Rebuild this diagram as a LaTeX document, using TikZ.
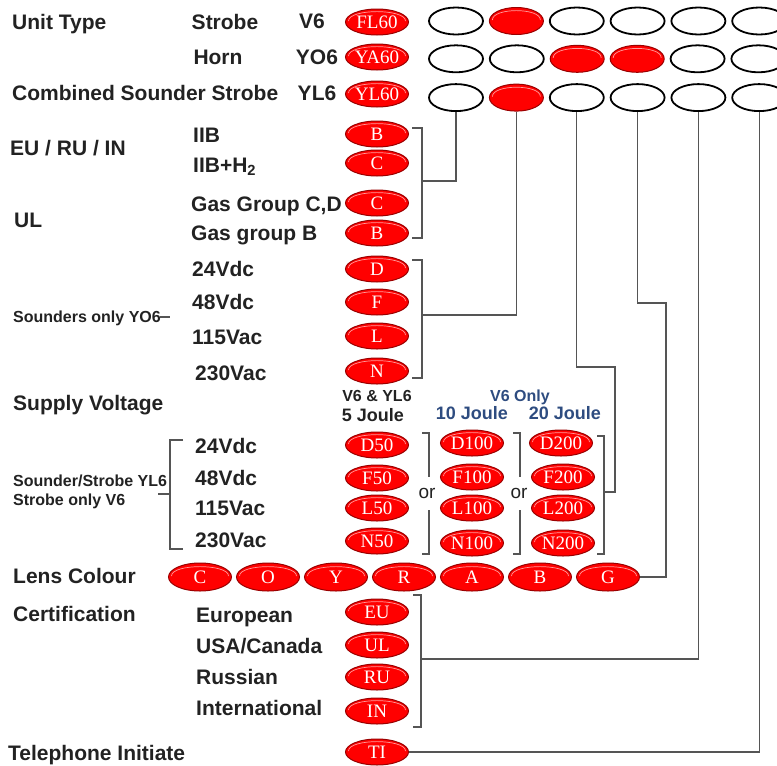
\documentclass[tikz,border=0pt]{standalone}
\usepackage{fontspec}
\setmainfont{Liberation Sans}
\newfontfamily\codefont{Liberation Serif}
\usepackage{tikz}
\usetikzlibrary{positioning,shapes.geometric}
\definecolor{ink}{HTML}{222222}
\definecolor{wirecol}{HTML}{555555}
\definecolor{joule}{HTML}{2E4C80}
\definecolor{codered}{HTML}{FF0000}
\definecolor{rim}{HTML}{9A0000}
\definecolor{glint}{HTML}{FF9A9A}

\begin{document}
\begin{tikzpicture}[x=1pt, y=-1pt,
    txt/.style={font=\bfseries\fontsize{21}{22}\selectfont, text=ink, inner sep=0pt, text height=15pt, text depth=0pt},
    small/.style={font=\bfseries\fontsize{16}{18}\selectfont, text=ink, inner sep=0pt, text height=11.5pt, text depth=0pt},
    head/.style={font=\bfseries\fontsize{18}{20}\selectfont, text=ink, inner sep=0pt, text height=12.9pt, text depth=0pt},
    shine/.style={path picture={\draw[glint, line width=0.7pt]
        ([xshift=-#1, yshift=1pt]path picture bounding box.center)
        .. controls ([xshift=-#1, yshift=13.5pt]path picture bounding box.center)
        and ([xshift=#1, yshift=13.5pt]path picture bounding box.center)
        .. ([xshift=#1, yshift=1pt]path picture bounding box.center);}},
    code/.style={ellipse, fill=codered, draw=rim, line width=1pt, inner sep=0pt, minimum width=63pt, minimum height=26pt, text=white, font=\codefont\fontsize{19}{19}\selectfont, shine=28.5pt},
    slot/.style={ellipse, draw=black, line width=1.8pt, inner sep=0pt, minimum width=54pt, minimum height=27pt},
    lit/.style={slot, fill=codered, draw=rim, line width=1pt, shine=24pt},
    wire/.style={draw=wirecol, line width=1.3pt}]
    \useasboundingbox (0,0) rectangle (777,766);

    % unit type
    \node[txt, anchor=west] (unittype) at (12,22) {Unit Type};
    \node[txt] (strobe) at (225,22) {Strobe};
    \node[txt] (horn) at (218,57) {Horn};
    \node[txt, anchor=west] (combined) at (12,93) {Combined Sounder Strobe};
    \node[txt] (v6) at (312,21) {V6};
    \node[txt] (yo6) at (317,57) {YO6};
    \node[txt] (yl6) at (317,93) {YL6};
    \node[code] (fl60) at (377,22) {FL60};
    \node[code] (ya60) at (377,57) {YA60};
    \node[code] (yl60) at (377,94) {YL60};

    \node[slot] (s11) at (456,21) {};
    \node[lit] (s12) [right=5pt of s11] {};
    \node[slot] (s13) [right=5pt of s12] {};
    \node[slot] (s14) [right=5pt of s13] {};
    \node[slot] (s15) [right=5pt of s14] {};
    \node[slot] (s16) [right=5pt of s15] {};

    \node[slot] (s21) [below=9pt of s11] {};
    \node[slot] (s22) [right=5pt of s21] {};
    \node[lit] (s23) [right=5pt of s22] {};
    \node[lit] (s24) [right=5pt of s23] {};
    \node[slot] (s25) [right=5pt of s24] {};
    \node[slot] (s26) [right=5pt of s25] {};

    \node[slot] (s31) [below=10pt of s21] {};
    \node[lit] (s32) [right=5pt of s31] {};
    \node[slot] (s33) [right=5pt of s32] {};
    \node[slot] (s34) [right=5pt of s33] {};
    \node[slot] (s35) [right=5pt of s34] {};
    \node[slot] (s36) [right=5pt of s35] {};

    % gas groups
    \node[txt, anchor=west] (euruin) at (10,148) {EU / RU / IN};
    \node[txt, anchor=west] (ul) at (14,220) {UL};
    \node[txt, anchor=west] (iib) at (193,135) {IIB};
    \node[txt, anchor=west] (iibh) at (193,165) {IIB+H\textsubscript{2}};
    \node[txt, anchor=west] (gascd) at (191,204) {Gas Group C,D};
    \node[txt, anchor=west] (gasb) at (191,233) {Gas group B};
    \node[code] (gb1) at (377,134) {B};
    \node[code] (gc1) at (377,163) {C};
    \node[code] (gc2) at (377,203) {C};
    \node[code] (gb2) at (377,233) {B};

    \draw[wire] (412,128) -- (422,128) -- (422,238) -- (412,238);
    \coordinate (gasj) at (422,181);
    \draw[wire] (s31.south) |- (gasj);

    % sounder voltages
    \node[small, anchor=west] (sounders) at (13,317) {Sounders only YO6};
    \draw[wire] (160,317) -- (170,317);
    \node[txt, anchor=west] (sv24) at (192,269) {24Vdc};
    \node[txt, anchor=west] (sv48) at (192,302) {48Vdc};
    \node[txt, anchor=west] (sv115) at (192,337) {115Vac};
    \node[txt, anchor=west] (sv230) at (195,373) {230Vac};
    \node[code] (vd) at (377,269) {D};
    \node[code] (vf) at (377,302) {F};
    \node[code] (vl) at (377,336) {L};
    \node[code] (vn) at (377,371) {N};

    \draw[wire] (412,260) -- (422,260) -- (422,378) -- (412,378);
    \coordinate (voltj) at (422,315);
    \draw[wire] (s32.south) |- (voltj);

    % supply voltage
    \node[txt, anchor=west] (supply) at (13,403) {Supply Voltage};
    \node[small] (v6yl6) at (377,396) {V6 \& YL6};
    \node[head] (j5) at (373,415) {5 Joule};
    \node[small, text=joule] (v6only) at (520,396) {V6 Only};
    \node[head, text=joule] (j10) at (472,413) {10 Joule};
    \node[head, text=joule] (j20) at (565,413) {20 Joule};

    \node[small, anchor=west] (sstrobe) at (13,481) {Sounder/Strobe YL6};
    \node[small, anchor=west] (stonly) at (13,500) {Strobe only V6};
    \draw[wire] (183,440) -- (170,440) -- (170,549) -- (183,549);
    \draw[wire] (170,494) -- (158,494);
    \node[txt, anchor=west] (pv24) at (195,446) {24Vdc};
    \node[txt, anchor=west] (pv48) at (195,478) {48Vdc};
    \node[txt, anchor=west] (pv115) at (195,508) {115Vac};
    \node[txt, anchor=west] (pv230) at (195,540) {230Vac};

    \node[code] (d50) at (377,445) {D50};
    \node[code] (f50) at (377,478) {F50};
    \node[code] (l50) at (377,508) {L50};
    \node[code] (n50) at (377,541) {N50};
    \node[code] (d100) at (472,443) {D100};
    \node[code] (f100) at (472,477) {F100};
    \node[code] (l100) at (472,508) {L100};
    \node[code] (n100) at (472,543) {N100};
    \node[code] (d200) at (561,443) {D200};
    \node[code] (f200) at (563,477) {F200};
    \node[code] (l200) at (563,508) {L200};
    \node[code] (n200) at (563,543) {N200};

    \node[font=\fontsize{19}{19}\selectfont, text=ink, inner sep=0pt] (or1) at (427,493) {or};
    \node[font=\fontsize{19}{19}\selectfont, text=ink, inner sep=0pt] (or2) at (519,493) {or};
    \draw[wire] (422,433) -- (429,433) -- (429,477);
    \draw[wire] (429,510) -- (429,554) -- (422,554);
    \draw[wire] (513,433) -- (520,433) -- (520,477);
    \draw[wire] (520,510) -- (520,554) -- (513,554);
    \draw[wire] (597,436) -- (604,436) -- (604,554) -- (597,554);
    \coordinate (j200) at (604,492);
    \coordinate (k3) at (615,367);
    \draw[wire] (s33.south) |- (k3) |- (j200);

    % lens colour
    \node[txt, anchor=west] (lens) at (13,576) {Lens Colour};
    \node[code, minimum height=28pt] (lc) at (200,577) {C};
    \node[code, minimum height=28pt] (lo) [right=4pt of lc] {O};
    \node[code, minimum height=28pt] (ly) [right=4pt of lo] {Y};
    \node[code, minimum height=28pt] (lr) [right=4pt of ly] {R};
    \node[code, minimum height=28pt] (la) [right=4pt of lr] {A};
    \node[code, minimum height=28pt] (lb) [right=4pt of la] {B};
    \node[code, minimum height=28pt] (lg) [right=4pt of lb] {G};
    \coordinate (k4) at (666,303);
    \draw[wire] (s34.south) |- (k4) |- (lg.east);

    % certification
    \node[txt, anchor=west] (cert) at (13,614) {Certification};
    \node[txt, anchor=west] (euro) at (196,615) {European};
    \node[txt, anchor=west] (usa) at (196,646) {USA/Canada};
    \node[txt, anchor=west] (rus) at (196,677) {Russian};
    \node[txt, anchor=west] (intl) at (196,708) {International};
    \node[code] (ceu) at (377,612) {EU};
    \node[code] (cul) at (377,645) {UL};
    \node[code] (cru) at (377,677) {RU};
    \node[code] (cin) at (377,711) {IN};
    \draw[wire] (413,595) -- (421,595) -- (421,727) -- (413,727);
    \coordinate (certj) at (421,659);
    \draw[wire] (s35.south) |- (certj);

    % telephone
    \node[txt, anchor=west] (tele) at (8,753) {Telephone Initiate};
    \node[code] (ti) at (377,752) {TI};
    \draw[wire] (s36.south) |- (ti.east);
\end{tikzpicture}
\end{document}
